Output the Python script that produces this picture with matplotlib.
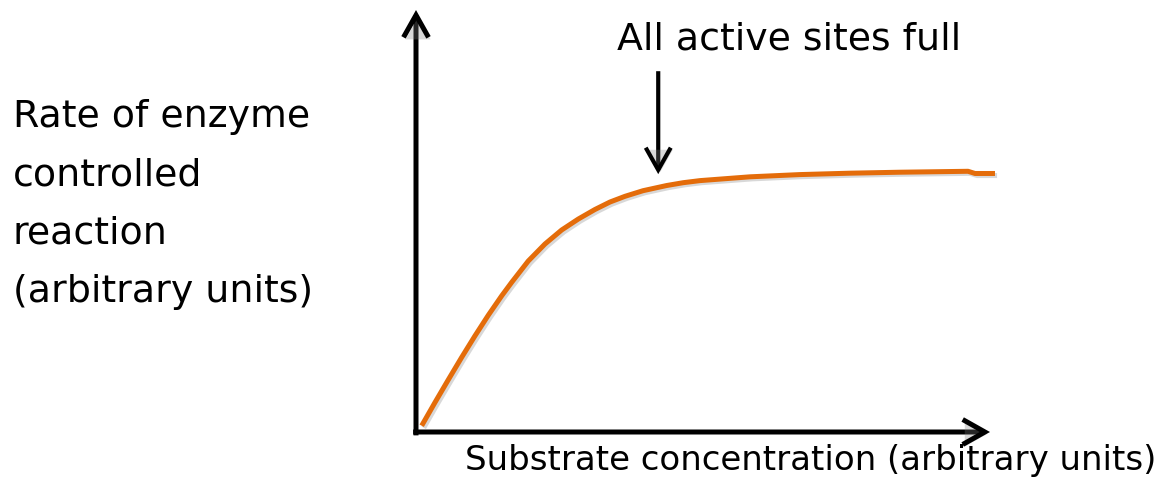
import matplotlib
matplotlib.use("Agg")
import matplotlib.pyplot as plt
import matplotlib.patheffects as pe

plt.rcParams['font.family'] = ['DejaVu Sans']

# Data (arbitrary units, axes run 0..100)
substrate = [0.99, 3.31, 5.63, 7.96, 10.28, 12.60, 14.93, 16.67, 19.56, 22.47, 25.38,
             28.28, 31.18, 33.80, 36.41, 39.55, 43.68, 46.57, 49.48, 58.19, 66.90,
             75.61, 84.32, 96.17, 97.39, 100.87]
rate = [1.49, 7.01, 12.39, 17.70, 22.80, 27.68, 32.27, 35.47, 40.52, 44.55, 47.87,
        50.47, 52.73, 54.50, 55.85, 57.18, 58.41, 59.08, 59.57, 60.47, 61.00,
        61.33, 61.56, 61.78, 61.26, 61.26]

annotation_text = "All active sites full"
annotation_xy = (42.2, 61.1)
annotation_start = (42.2, 85.5)
ylabel_lines = ["Rate of enzyme", "controlled", "reaction", "(arbitrary units)"]
xlabel_text = "Substrate concentration (arbitrary units)"

W, H = 1162, 489
fig = plt.figure(figsize=(W / 100, H / 100), dpi=100)
ax = fig.add_axes([416 / W, (H - 433) / H, 574 / W, 422 / H])
ax.set_xlim(0, 100)
ax.set_ylim(0, 100)
ax.axis('off')

shadow = [pe.SimpleLineShadow(offset=(1.5, -1.5), shadow_color='gray', alpha=0.3), pe.Normal()]
pshadow = [pe.SimplePatchShadow(offset=(1.5, -1.5), shadow_rgbFace='gray', alpha=0.3), pe.Normal()]

# curve
ax.plot(substrate, rate, color='#E46C0A', lw=3.6, solid_capstyle='butt',
        solid_joinstyle='round', clip_on=False, path_effects=shadow, zorder=3)

arrow_kw = dict(arrowstyle='->,head_length=0.8,head_width=0.45', lw=3.6,
                color='black', shrinkA=0, shrinkB=0, mutation_scale=20,
                joinstyle='miter', capstyle='butt')
# axes arrows
ax.annotate('', xy=(0, 100), xytext=(0, -0.8), xycoords='data',
            arrowprops=arrow_kw, annotation_clip=False).arrow_patch.set_path_effects(pshadow)
ax.annotate('', xy=(100, 0), xytext=(-0.5, 0), xycoords='data',
            arrowprops=arrow_kw, annotation_clip=False).arrow_patch.set_path_effects(pshadow)

# annotation arrow
down_kw = dict(arrow_kw)
down_kw['lw'] = 3.0
ax.annotate('', xy=annotation_xy, xytext=annotation_start, xycoords='data',
            arrowprops=down_kw, annotation_clip=False).arrow_patch.set_path_effects(pshadow)

fig.text(789.5 / W, 1 - 50 / H, annotation_text, ha='center', va='baseline',
         fontsize=27.3, color='black')

baselines = [127, 185.5, 244, 302.5]
for line, b in zip(ylabel_lines, baselines):
    fig.text(13 / W, 1 - b / H, line, ha='left', va='baseline', fontsize=27.3, color='black')

fig.text(465 / W, 1 - 470 / H, xlabel_text, ha='left', va='baseline',
         fontsize=24.5, color='black')

fig.savefig('out.png', dpi=100, facecolor='white')
